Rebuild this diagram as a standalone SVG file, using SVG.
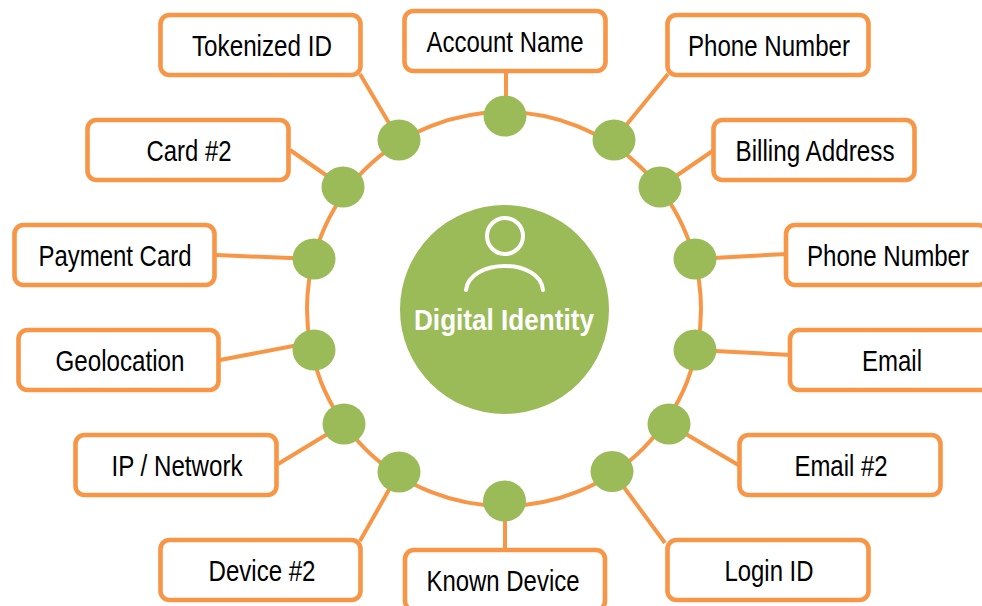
<svg xmlns="http://www.w3.org/2000/svg" width="982" height="606" viewBox="0 0 982 606">
<style>
.c{fill:none;stroke:#f79646;stroke-width:4}
.b{fill:#fff;stroke:#f79646;stroke-width:4.600}
.d{fill:#9bbb59}
.t{font-family:"Liberation Sans",Arial,sans-serif;font-size:29px;fill:#000;text-anchor:middle}
.i{fill:none;stroke:#fff;stroke-width:4;stroke-linecap:round}
</style>
<rect width="982" height="606" fill="#fff"/>
<g id="connectors" class="c">
<circle cx="504" cy="309" r="197"/>
<path d="M506 72V116M360 74L399 140M668 74L614 140M290 150L343 187M714 150L660 187M216 255L314 259M787 254L695 259M220 360L314 342M791 355L695 350M278 464L344 424M740 466L669 424M360 541L399 472M665 543L612 471M505 550V501"/>
</g>
<g id="center"><circle class="d" cx="504.500" cy="309.500" r="104.500"/><circle class="i" cx="505" cy="236" r="18"/><path class="i" d="M466 290C470 258 540 258 543 290"/><text x="504" y="330" font-family="'Liberation Sans',Arial,sans-serif" font-size="30" font-weight="700" fill="#fff" text-anchor="middle" textLength="180" lengthAdjust="spacingAndGlyphs">Digital Identity</text></g>
<g id="dots">
<ellipse class="d" cx="505" cy="116" rx="21.500" ry="20.500"/><ellipse class="d" cx="399" cy="140" rx="21.500" ry="20.500"/><ellipse class="d" cx="614" cy="140" rx="21.500" ry="20.500"/><ellipse class="d" cx="343" cy="187" rx="21.500" ry="20.500"/><ellipse class="d" cx="660" cy="187" rx="21.500" ry="20.500"/><ellipse class="d" cx="314" cy="259" rx="21.500" ry="20.500"/><ellipse class="d" cx="695" cy="259" rx="21.500" ry="20.500"/><ellipse class="d" cx="314" cy="350" rx="21.500" ry="20.500"/><ellipse class="d" cx="695" cy="350" rx="21.500" ry="20.500"/><ellipse class="d" cx="344" cy="424" rx="21.500" ry="20.500"/><ellipse class="d" cx="669" cy="424" rx="21.500" ry="20.500"/><ellipse class="d" cx="399" cy="472" rx="21.500" ry="20.500"/><ellipse class="d" cx="612" cy="471.500" rx="21.500" ry="20.500"/><ellipse class="d" cx="504.500" cy="501" rx="21.500" ry="20.500"/>
</g>
<g id="n1"><rect class="b" x="160.500" y="15" width="200" height="60" rx="9"/><text class="t" x="262" y="56" textLength="140" lengthAdjust="spacingAndGlyphs">Tokenized ID</text></g>
<g id="n2"><rect class="b" x="404.500" y="11" width="201" height="60" rx="9"/><text class="t" x="505" y="52" textLength="157" lengthAdjust="spacingAndGlyphs">Account Name</text></g>
<g id="n3"><rect class="b" x="667.500" y="15" width="201" height="60" rx="9"/><text class="t" x="769" y="56" textLength="162" lengthAdjust="spacingAndGlyphs">Phone Number</text></g>
<g id="n4"><rect class="b" x="713.500" y="120" width="201" height="60" rx="9"/><text class="t" x="815" y="161" textLength="159" lengthAdjust="spacingAndGlyphs">Billing Address</text></g>
<g id="n5"><rect class="b" x="87.500" y="120" width="201" height="60" rx="9"/><text class="t" x="189" y="161" textLength="85" lengthAdjust="spacingAndGlyphs">Card #2</text></g>
<g id="n6"><rect class="b" x="14.500" y="225" width="200" height="60" rx="9"/><text class="t" x="115" y="266" textLength="153" lengthAdjust="spacingAndGlyphs">Payment Card</text></g>
<g id="n7"><rect class="b" x="786" y="225" width="201" height="60" rx="9"/><text class="t" transform="translate(888 266) scale(.831 1)">Phone Number</text></g>
<g id="n8"><rect class="b" x="18.500" y="330" width="200" height="60" rx="9"/><text class="t" x="120" y="371" textLength="129" lengthAdjust="spacingAndGlyphs">Geolocation</text></g>
<g id="n9"><rect class="b" x="790" y="330" width="201" height="60" rx="9"/><text class="t" x="892" y="371" textLength="60" lengthAdjust="spacingAndGlyphs">Email</text></g>
<g id="n10"><rect class="b" x="75.500" y="435" width="201" height="60" rx="9"/><text class="t" x="177" y="476" textLength="131" lengthAdjust="spacingAndGlyphs">IP / Network</text></g>
<g id="n11"><rect class="b" x="739.500" y="435" width="201" height="60" rx="9"/><text class="t" x="841" y="476" textLength="93" lengthAdjust="spacingAndGlyphs">Email #2</text></g>
<g id="n12"><rect class="b" x="160.500" y="540" width="200" height="60" rx="9"/><text class="t" x="262" y="581" textLength="107" lengthAdjust="spacingAndGlyphs">Device #2</text></g>
<g id="n13"><rect class="b" x="667.500" y="540" width="201" height="60" rx="9"/><text class="t" x="769" y="581" textLength="89" lengthAdjust="spacingAndGlyphs">Login ID</text></g>
<g id="n14"><rect class="b" x="405" y="550" width="200" height="60" rx="9"/><text class="t" x="503" y="591" textLength="153" lengthAdjust="spacingAndGlyphs">Known Device</text></g>
</svg>
